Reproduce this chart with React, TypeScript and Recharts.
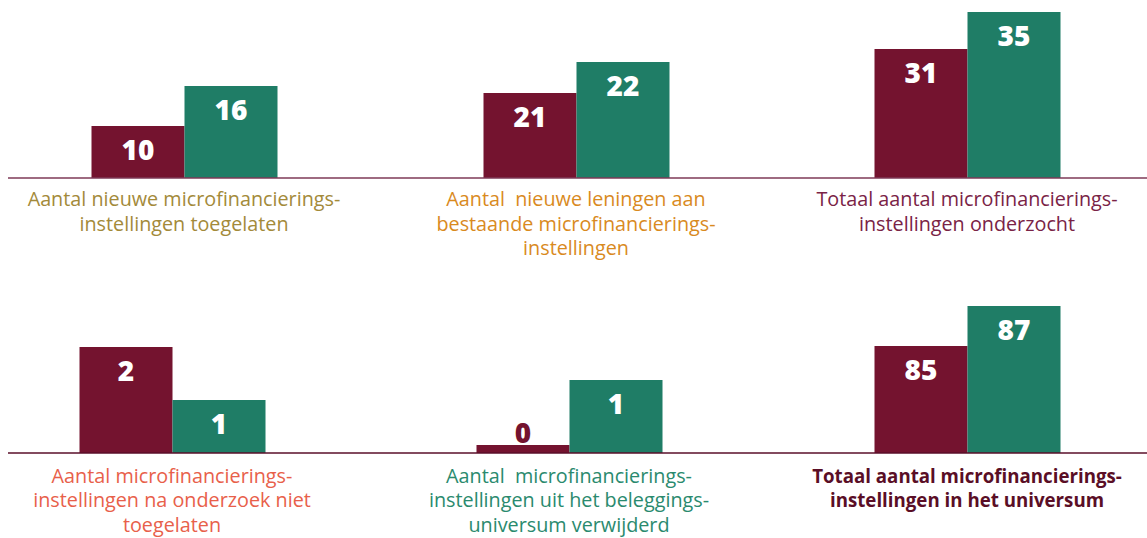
import { BarChart, Bar, XAxis, YAxis, LabelList } from 'recharts'

// category titles, "\n" marks the line breaks of the original
const titles = [
  'Aantal nieuwe microfinancierings-\ninstellingen toegelaten',
  'Aantal  nieuwe leningen aan\nbestaande microfinancierings-\ninstellingen',
  'Totaal aantal microfinancierings-\ninstellingen onderzocht',
  'Aantal microfinancierings-\ninstellingen na onderzoek niet\ntoegelaten',
  'Aantal  microfinancierings-\ninstellingen uit het beleggings-\nuniversum verwijderd',
  'Totaal aantal microfinancierings-\ninstellingen in het universum',
]
const prevValues = [10, 21, 31, 2, 0, 85]
const currValues = [16, 22, 35, 1, 1, 87]

const RED = '#74132F'
const GREEN = '#1F7D66'
const FONT = '"Open Sans", sans-serif'

// every panel has its own scale, the bars are not comparable between panels
const panels = [
  { row: 0, col: 0, center: 184, domain: [2.2, 28.9], color: '#A38A3A', bold: false },
  { row: 0, col: 1, center: 576, domain: [18.26, 24], color: '#D98A1E', bold: false },
  { row: 0, col: 2, center: 967, domain: [17.05, 36.3], color: '#7A2346', bold: false },
  { row: 1, col: 0, center: 172, domain: [0, 3.36], color: '#E8604A', bold: false },
  { row: 1, col: 1, center: 569, domain: [0, 2.44], color: '#2A8A6E', bold: false },
  { row: 1, col: 2, center: 967, domain: [79.65, 88.55], color: '#5A0E26', bold: true },
]

const rows = [
  { top: 0, height: 270, line: '#7E3A57', textDy: 28 },
  { top: 275, height: 263, line: '#5A0F2A', textDy: 29.5 },
]
const colLeft = [8, 388, 768]
const colWidth = [380, 380, 379]
const PLOT_H = 178

function ValueLabel(props: any) {
  const { x, y, width, height, value, fill } = props
  if (height < 30) {
    return (
      <text x={x + width / 2} y={y - 2} textAnchor="middle" fill={fill}
        fontFamily={FONT} fontWeight={800} fontSize={28}>{value}</text>
    )
  }
  return (
    <text x={x + width / 2} y={y + 34} textAnchor="middle" fill="#fff"
      fontFamily={FONT} fontWeight={800} fontSize={28}>{value}</text>
  )
}

function Panel({ i }: { i: number }) {
  const p = panels[i]
  const r = rows[p.row]
  const left = colLeft[p.col]
  const w = colWidth[p.col]
  const padL = p.center - left - 92.5
  const padR = w - (p.center - left) - 92.5
  const data = [{ name: titles[i], prev: prevValues[i], curr: currValues[i] }]

  const Tick = ({ x, y, payload }: any) => (
    <text x={x} y={y + r.textDy} textAnchor="middle" fill={p.color} fontFamily={FONT}
      fontSize={p.bold ? 18.7 : 19.8} fontWeight={p.bold ? 700 : 400} style={{ whiteSpace: 'pre' }}>
      {String(payload.value).split('\n').map((l, k) => (
        <tspan key={k} x={x} dy={k === 0 ? 0 : 24.5}>{l}</tspan>
      ))}
    </text>
  )

  return (
    <div style={{ position: 'absolute', left, top: r.top }}>
      <BarChart width={w} height={r.height} data={data} barCategoryGap={0} barGap={0}
        margin={{ top: 0, right: 0, bottom: 0, left: 0 }}>
        <XAxis dataKey="name" height={r.height - PLOT_H} padding={{ left: padL, right: padR }}
          axisLine={{ stroke: r.line, strokeWidth: 1.3 }} tickLine={false} tickSize={0} tickMargin={0}
          tick={<Tick />} interval={0} />
        <YAxis hide domain={p.domain} allowDataOverflow />
        <Bar dataKey="prev" fill={RED} minPointSize={8} isAnimationActive={false}>
          <LabelList dataKey="prev" content={(lp: any) => <ValueLabel {...lp} fill={RED} />} />
        </Bar>
        <Bar dataKey="curr" fill={GREEN} minPointSize={8} isAnimationActive={false}>
          <LabelList dataKey="curr" content={(lp: any) => <ValueLabel {...lp} fill={GREEN} />} />
        </Bar>
      </BarChart>
    </div>
  )
}

export default function App() {
  return (
    <div style={{ position: 'absolute', left: 0, top: 0, width: 1147, height: 538, background: '#fff' }}>
      {panels.map((_, i) => <Panel key={i} i={i} />)}
    </div>
  )
}
